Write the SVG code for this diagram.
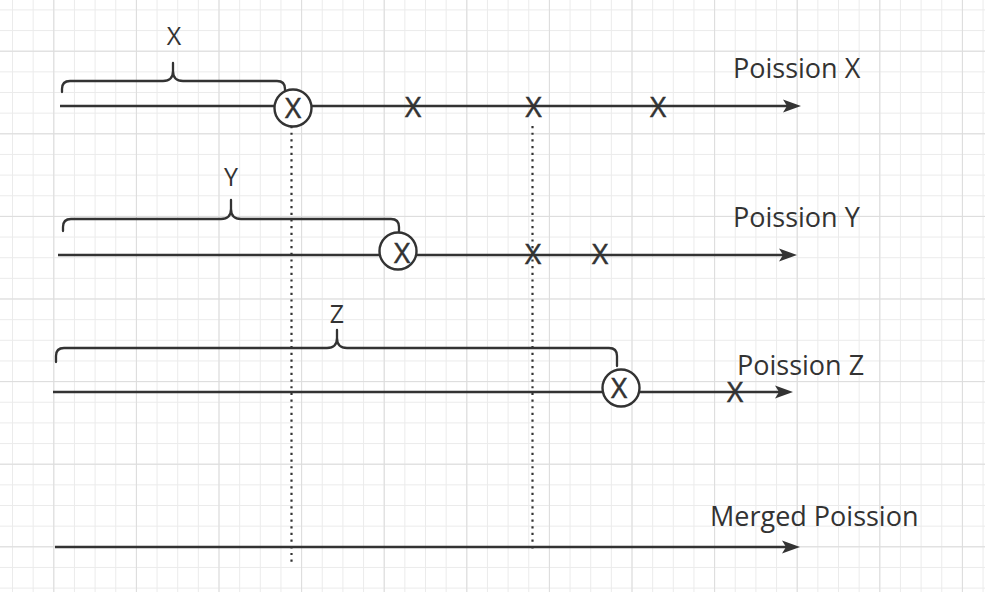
<svg xmlns="http://www.w3.org/2000/svg" width="985" height="592" viewBox="0 0 985 592">
<defs>
<pattern id="minor" patternUnits="userSpaceOnUse" x="53.3" y="50.7" width="20.65" height="20.65">
<path d="M0.5 0 V20.65 M0 0.5 H20.65" fill="none" stroke="#ebebeb" stroke-width="1"/>
</pattern>
<pattern id="major" patternUnits="userSpaceOnUse" x="53.3" y="50.7" width="82.6" height="82.6">
<path d="M0.5 0 V82.6 M0 0.5 H82.6" fill="none" stroke="#dcdcdc" stroke-width="1"/>
</pattern>
<marker id="arr" markerUnits="userSpaceOnUse" markerWidth="20" markerHeight="14" refX="4" refY="7" orient="auto">
<path d="M0,0.5 L18,7 L0,13.5 L4,7 Z" fill="#333"/>
</marker>
<style>
.axis{fill:none;stroke:#333;stroke-width:2.5}
.brace{fill:none;stroke:#333;stroke-width:2.3;stroke-linejoin:round;stroke-linecap:round}
.dot{fill:none;stroke:#333;stroke-width:2.2;stroke-dasharray:2.2 4.47}
.circ{fill:#fff;stroke:#333;stroke-width:2.4}
.lbl{font-family:"Open Sans","Noto Sans",sans-serif;font-size:27px;fill:#333}
.ttl{font-family:"Open Sans","Noto Sans",sans-serif;font-size:25px;fill:#333;text-anchor:middle}
.mk{font-family:"Open Sans","Noto Sans",sans-serif;font-size:28px;fill:#333;text-anchor:middle;stroke:#333;stroke-width:0.5}
</style>
</defs>
<rect width="985" height="592" fill="#fff"/>
<rect width="985" height="592" fill="url(#minor)"/>
<rect width="985" height="592" fill="url(#major)"/>

<g id="connectors">
<line class="axis" x1="60" y1="106" x2="787" y2="106" marker-end="url(#arr)"/>
<line class="axis" x1="58" y1="255" x2="783" y2="255" marker-end="url(#arr)"/>
<line class="axis" x1="53" y1="392" x2="779" y2="392" marker-end="url(#arr)"/>
<line class="axis" x1="55" y1="547" x2="786" y2="547" marker-end="url(#arr)"/>
<line class="dot" x1="291.5" y1="126" x2="291.5" y2="565"/>
<line class="dot" x1="532.5" y1="126" x2="532.5" y2="551"/>
</g>

<g id="brace-x">
<path class="brace" d="M62 92 V89 Q62 81 70 81 H163 Q173 81 173 71 V63 V71 Q173 81 183 81 H277 Q285 81 285 89 V92"/>
<text class="ttl" x="174" y="45">X</text>
</g>
<g id="brace-y">
<path class="brace" d="M63 231 V227 Q63 219 71 219 H221 Q231 219 231 209 V200 V209 Q231 219 241 219 H391 Q399 219 399 227 V232"/>
<text class="ttl" x="231" y="186">Y</text>
</g>
<g id="brace-z">
<path class="brace" d="M56 362 V356 Q56 348 64 348 H327 Q337 348 337 338 V330 V338 Q337 348 347 348 H609 Q617 348 617 356 V366"/>
<text class="ttl" x="337" y="323">Z</text>
</g>

<g id="line-x">
<text class="lbl" x="733" y="78">Poission X</text>
<circle class="circ" cx="293" cy="108" r="18.5"/>
<text class="mk" x="293" y="118">X</text>
<text class="mk" x="413" y="116.5">X</text>
<text class="mk" x="533.5" y="116.5">X</text>
<text class="mk" x="658" y="116.5">X</text>
</g>
<g id="line-y">
<text class="lbl" x="733" y="227">Poission Y</text>
<circle class="circ" cx="398" cy="251" r="18.5"/>
<text class="mk" x="402" y="263">X</text>
<text class="mk" x="533" y="264">X</text>
<text class="mk" x="600" y="264">X</text>
</g>
<g id="line-z">
<text class="lbl" x="737" y="375">Poission Z</text>
<circle class="circ" cx="621" cy="388" r="18.5"/>
<text class="mk" x="619" y="398">X</text>
<text class="mk" x="735" y="402">X</text>
</g>
<g id="line-merged">
<text class="lbl" x="710" y="526">Merged Poission</text>
</g>
</svg>
